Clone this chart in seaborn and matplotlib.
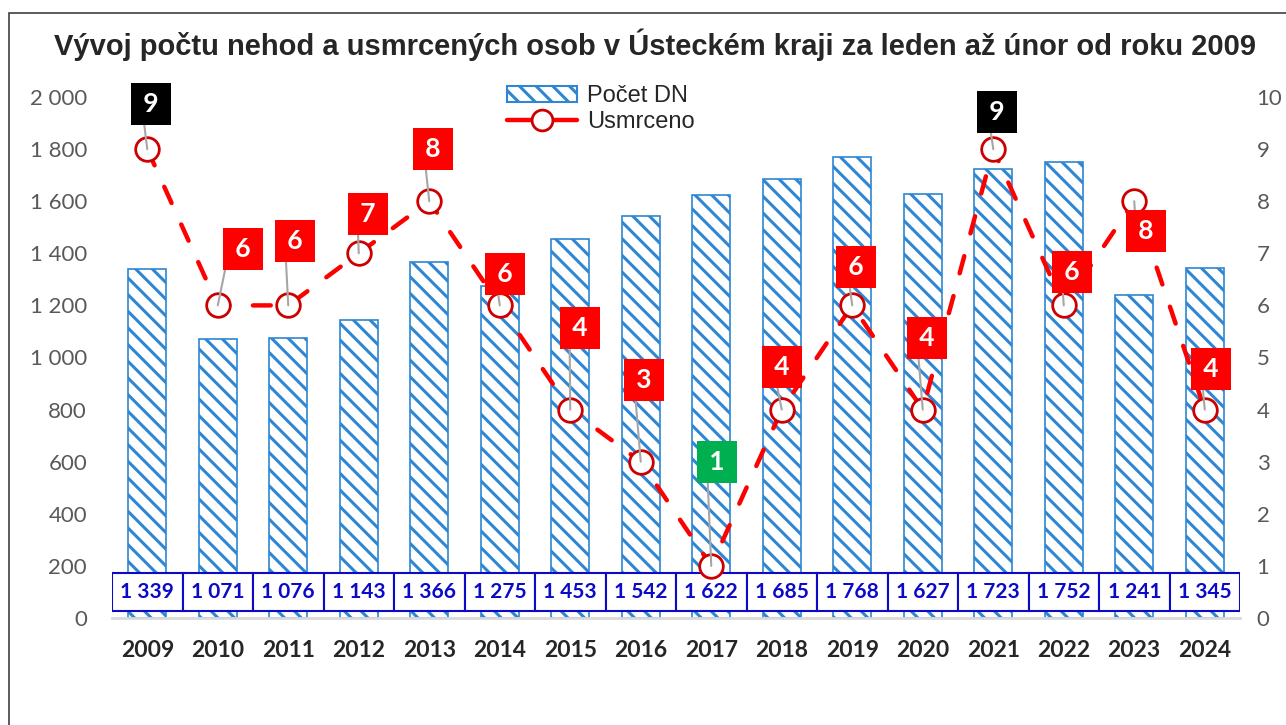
import numpy as np
import matplotlib
matplotlib.use("Agg")
import matplotlib.pyplot as plt
import seaborn as sns
from matplotlib.patches import Rectangle, Patch
from matplotlib.lines import Line2D

years = ["2009", "2010", "2011", "2012", "2013", "2014", "2015", "2016",
         "2017", "2018", "2019", "2020", "2021", "2022", "2023", "2024"]
accidents = [1339, 1071, 1076, 1143, 1366, 1275, 1453, 1542,
             1622, 1685, 1768, 1627, 1723, 1752, 1241, 1345]
killed = [9, 6, 6, 7, 8, 6, 4, 3, 1, 4, 6, 4, 9, 6, 8, 4]

# callout box offsets from the point (pixels, right / up)
callout_dx = [4, 25, 7, 9, 4, 5, 10, 3, 6, 0, 4, 4, 4, 8, 12, 6]
callout_dy = [45, 56, 64, 39, 52, 31, 82, 82, 104, 43, 38, 72, 37, 33, -30, 41]

blue = "#2F86D2"
label_blue = "#0A0AC8"

sns.set_theme(style="white")
plt.rcParams["font.family"] = ["Lato", "DejaVu Sans"]
plt.rcParams["hatch.linewidth"] = 2.2

fig = plt.figure(figsize=(12.86, 7.25), dpi=100)
ax = fig.add_axes([112 / 1286, 1 - 618 / 725, 1128 / 1286, 521 / 725])

sns.barplot(x=years, y=accidents, ax=ax, color="white", edgecolor=blue,
            hatch="\\\\", width=0.54, linewidth=1.2, saturation=1)
ax.set_ylim(0, 2000)
ax.set_xlim(-0.5, len(years) - 0.5)
ax.set_yticks(range(0, 2001, 200))
ax.set_yticklabels([f"{v:,}".replace(",", " ") for v in range(0, 2001, 200)])
ax.tick_params(axis="y", length=0, labelsize=16, labelcolor="#595959", pad=18)
ax.tick_params(axis="x", length=0, labelsize=16.5, pad=16)
for t in ax.get_xticklabels():
    t.set_fontweight("bold")
ax.set_xlabel("")
ax.set_ylabel("")
for s in ["left", "right", "top"]:
    ax.spines[s].set_visible(False)
ax.spines["bottom"].set_color("#D9D9D9")
ax.spines["bottom"].set_linewidth(2)

# value boxes along the bottom
for i, v in enumerate(accidents):
    ax.add_patch(Rectangle((i - 0.5, 27), 1, 146, facecolor="white",
                           edgecolor=label_blue, lw=1.5, zorder=4))
    ax.text(i, 100, f"{v:,}".replace(",", " "), ha="center", va="center",
            color=label_blue, fontsize=15, fontweight="bold", zorder=5)

ax2 = ax.twinx()
ax2.plot(range(len(years)), killed, color="red", lw=3.2, dashes=(4, 5.3),
         dash_capstyle="round", marker="o", markersize=17,
         markerfacecolor="white", markeredgecolor="#CC0000",
         markeredgewidth=2, zorder=3)
ax2.set_ylim(0, 10)
ax2.set_yticks(range(0, 11))
ax2.tick_params(axis="y", length=0, labelsize=16, labelcolor="#595959", pad=12)
for s in ["left", "right", "top", "bottom"]:
    ax2.spines[s].set_visible(False)
ax2.grid(False)
ax.grid(False)

for i, k in enumerate(killed):
    box_col = "black" if k == 9 else ("#00B050" if k == 1 else "red")
    ax2.annotate(f"\u2009{k}\u2009", xy=(i, k),
                 xytext=(callout_dx[i], callout_dy[i]),
                 textcoords="offset pixels", ha="center", va="center",
                 color="white", fontsize=19, fontweight="bold", zorder=6,
                 annotation_clip=False,
                 bbox=dict(boxstyle="square,pad=0.34", fc=box_col, ec="none"),
                 arrowprops=dict(arrowstyle="-", color="#A6A6A6", lw=1.5,
                                 relpos=(0, 1), shrinkA=0, shrinkB=0))

handles = [Patch(facecolor="white", edgecolor=blue, hatch="\\\\", lw=1.5),
           Line2D([0], [0], color="red", lw=3.2, marker="o", markersize=15,
                  markerfacecolor="white", markeredgecolor="#CC0000",
                  markeredgewidth=2)]
fig.legend(handles, ["Počet DN", "Usmrceno"], loc="upper center",
           bbox_to_anchor=(0.467, 0.905), frameon=False, handlelength=3,
           labelspacing=0.15, handletextpad=0.4, borderpad=0.2,
           prop={"family": "Liberation Sans", "size": 17})

fig.text(0.509, 1 - 45 / 725,
         "Vývoj počtu nehod a usmrcených osob v Ústeckém kraji za leden až únor od roku 2009",
         ha="center", va="center", fontsize=21, fontweight="bold",
         family="Liberation Sans")

fig.patches.append(Rectangle((9 / 1286, -0.05), 1.2, 1.05 - 13 / 725,
                             transform=fig.transFigure, fill=False,
                             edgecolor="#404040", lw=1.2))

fig.savefig("out.png", dpi=100)
